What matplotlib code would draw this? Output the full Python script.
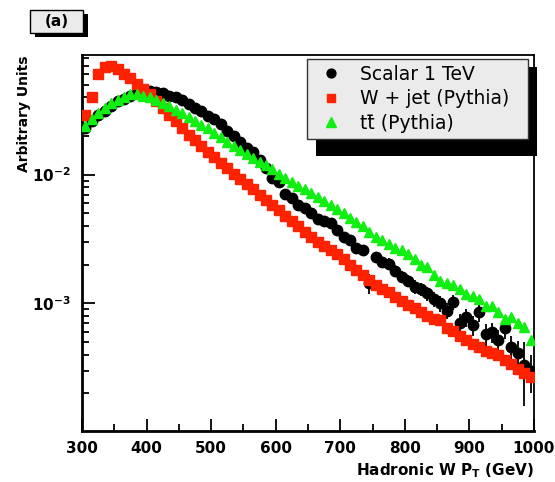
import numpy as np
import matplotlib
matplotlib.use("Agg")
import matplotlib.pyplot as plt
from matplotlib.patches import Rectangle
from matplotlib.ticker import MultipleLocator

plt.rcParams["font.weight"] = "bold"
plt.rcParams["mathtext.default"] = "bf"

# Histogram bins, 10 GeV wide, from 300 to 1000 GeV.
pt_centres = np.arange(305.0, 1000.0, 10.0)

# Scalar 1 TeV (black circles)
scalar = [0.023, 0.026, 0.029, 0.031, 0.034, 0.037, 0.039, 0.041, 0.043, 0.044,
          0.045, 0.044, 0.043, 0.041, 0.040, 0.038, 0.0355, 0.033, 0.031, 0.0285,
          0.027, 0.0248, 0.022, 0.020, 0.018, 0.0162, 0.0150, 0.0130, 0.0112, 0.0095,
          0.0087, 0.0071, 0.0066, 0.0058, 0.0055, 0.0050, 0.0045, 0.0044, 0.0042, 0.0037,
          0.0033, 0.0031, 0.0027, 0.0026, 0.00143, 0.0023, 0.0021, 0.00204, 0.0018, 0.0016,
          0.0015, 0.00135, 0.0013, 0.0012, 0.00108, 0.0010, 0.00088, 0.00103, 0.00071, 0.00078,
          0.00068, 0.00085, 0.00058, 0.00060, 0.00052, 0.00064, 0.00046, 0.00041, 0.00033, 0.00030]
scalar_err = [0.0] * 44 + [
          0.00025, 0.0002, 0.0002, 0.0002, 0.00018, 0.00017, 0.00016, 0.00016, 0.00015, 0.00015,
          0.00014, 0.00014, 0.00013, 0.00014, 0.00012, 0.00013, 0.00012, 0.00013, 0.00011, 0.00011,
          0.00010, 0.00011, 0.00010, 0.00010, 0.00017, 0.00010]

# W + jet (red squares)
wjet = [0.029, 0.040, 0.060, 0.069, 0.070, 0.066, 0.061, 0.056, 0.051, 0.046,
        0.042, 0.037, 0.033, 0.029, 0.026, 0.023, 0.0205, 0.0185, 0.0166, 0.0150,
        0.0136, 0.0124, 0.0112, 0.0102, 0.0093, 0.0084, 0.0077, 0.0070, 0.0063, 0.0058,
        0.0053, 0.0048, 0.0044, 0.0040, 0.0036, 0.0033, 0.0030, 0.0028, 0.0026, 0.0024,
        0.0022, 0.0020, 0.00182, 0.00166, 0.00152, 0.00140, 0.00130, 0.00122, 0.00113, 0.00105,
        0.00098, 0.00092, 0.00086, 0.00080, 0.00076, 0.00074, 0.00064, 0.00061, 0.00056, 0.00052,
        0.00048, 0.00046, 0.00043, 0.00041, 0.00040, 0.00036, 0.00034, 0.00031, 0.00029, 0.00027]

# ttbar (green triangles)
ttbar = [0.024, 0.027, 0.030, 0.033, 0.036, 0.038, 0.040, 0.042, 0.042, 0.041,
         0.040, 0.038, 0.036, 0.034, 0.032, 0.030, 0.028, 0.026, 0.0245, 0.023,
         0.021, 0.0195, 0.018, 0.0167, 0.0155, 0.0145, 0.0135, 0.0125, 0.0119, 0.0110,
         0.0102, 0.0095, 0.0088, 0.0082, 0.0077, 0.0072, 0.0067, 0.0062, 0.0058, 0.0054,
         0.0050, 0.0046, 0.0043, 0.0040, 0.0036, 0.0033, 0.0031, 0.0029, 0.0027, 0.0026,
         0.0024, 0.0022, 0.0020, 0.0019, 0.00165, 0.00150, 0.00145, 0.00140, 0.00130, 0.00118,
         0.00115, 0.00108, 0.00095, 0.00096, 0.00085, 0.00076, 0.00078, 0.00070, 0.00066, 0.00052]

W, H = 555, 482
fig = plt.figure(figsize=(W / 100, H / 100), dpi=100)
ax = fig.add_axes([82 / W, 1 - 431 / H, (534 - 82) / W, (431 - 55) / H])

h_sc = ax.errorbar(pt_centres, scalar, yerr=scalar_err, fmt="o", color="black",
                   markersize=7.5, elinewidth=1.3, capsize=0, zorder=2)
h_wj, = ax.plot(pt_centres, wjet, "s", color="#ff2200", markersize=7.2, zorder=3)
h_tt, = ax.plot(pt_centres, ttbar, "^", color="#11ee11", markersize=7.8, zorder=4)

ax.set_yscale("log")
ax.set_xlim(300, 1000)
ax.set_ylim(1.02e-4, 0.085)
ax.xaxis.set_major_locator(MultipleLocator(100))
ax.xaxis.set_minor_locator(MultipleLocator(50))

ax.tick_params(which="both", direction="in", top=False, right=False, width=1.3)
ax.tick_params(which="major", length=9, labelsize=11)
ax.tick_params(which="minor", length=5)
ax.tick_params(axis="x", pad=7)
ax.tick_params(axis="y", pad=8)
for side in ["left", "bottom"]:
    ax.spines[side].set_linewidth(2)
for side in ["top", "right"]:
    ax.spines[side].set_linewidth(1.3)

ax.set_xlabel(r"Hadronic W P$_{T}$ (GeV)", loc="right", fontsize=11,
              fontweight="bold", labelpad=4)
ax.set_ylabel("Arbitrary Units", loc="top", fontsize=10, fontweight="bold",
              labelpad=1)

# Legend with a ROOT-style shadow
leg = ax.legend([h_sc[0], h_wj, h_tt],
                ["Scalar 1 TeV", "W + jet (Pythia)", "tt\u0304 (Pythia)"],
                loc="upper left", bbox_to_anchor=(307 / W, 1 - 148 / H, 221 / W, 89 / H),
                bbox_transform=fig.transFigure, mode="expand", borderaxespad=0,
                fancybox=False, edgecolor="#333333", facecolor="#ebebeb", framealpha=1,
                prop={"size": 13.5, "weight": "normal"}, borderpad=0.3, labelspacing=0.3,
                handlelength=2.0, handletextpad=0.5, numpoints=1, markerscale=0.85)
leg.get_frame().set_linewidth(1.0)
leg.set_zorder(6)
ax.add_patch(Rectangle((316 / W, 1 - 156 / H), 221 / W, 89 / H, transform=fig.transFigure,
                       facecolor="black", edgecolor="none", clip_on=False, zorder=5.5))

# "(a)" box in the top left corner
fig.patches.append(Rectangle((35 / W, 1 - 37 / H), 53 / W, 23 / H, transform=fig.transFigure,
                             facecolor="black", edgecolor="none", figure=fig))
fig.patches.append(Rectangle((30 / W, 1 - 33 / H), 53 / W, 23 / H, transform=fig.transFigure,
                             facecolor="#ebebeb", edgecolor="black", linewidth=1.0, figure=fig))
fig.text(56.5 / W, 1 - 21.5 / H, "(a)", ha="center", va="center", fontsize=11,
         fontweight="bold")

fig.savefig("out.png", dpi=100)
